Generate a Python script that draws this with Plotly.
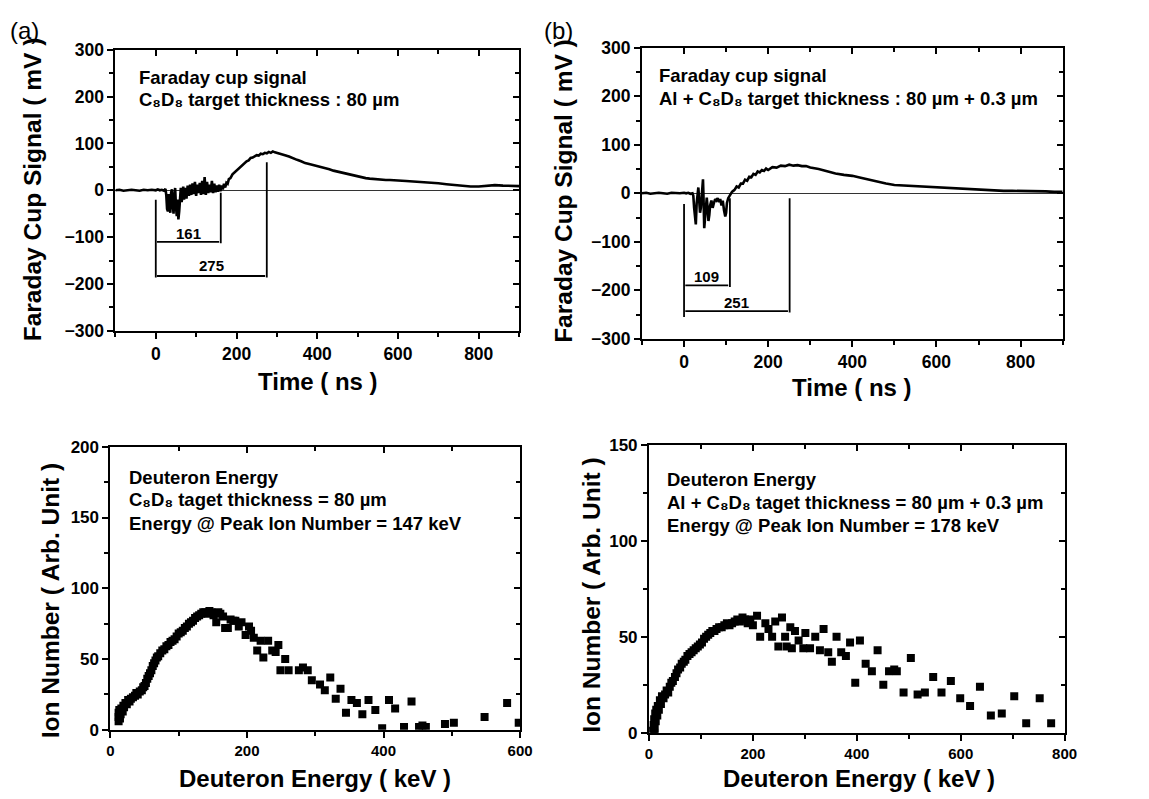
import plotly.graph_objects as go

# ---------------- data ----------------
time_a = [-100, -90, -80, -70, -60, -50, -40, -30, -20, -10, 0, 5, 10, 15, 20, 24, 26, 28, 30, 32,
          34, 36, 38, 40, 42, 44, 46, 48, 50, 52, 54, 56, 58, 60, 62, 64, 66, 68, 70, 73,
          76, 79, 82, 85, 88, 91, 94, 97, 100, 103, 106, 109, 112, 115, 118, 121, 124, 127, 130, 133,
          136, 139, 142, 145, 148, 151, 154, 157, 160, 163, 166, 169, 172, 175, 178, 181, 185, 190, 195, 200,
          205, 210, 215, 220, 225, 230, 235, 240, 245, 250, 255, 260, 265, 270, 275, 280, 285, 290, 295, 300,
          305, 310, 320, 330, 340, 350, 360, 370, 380, 390, 400, 410, 420, 430, 440, 450, 460, 470, 480, 490,
          500, 510, 520, 530, 540, 550, 560, 570, 580, 590, 600, 620, 640, 660, 680, 700, 720, 740, 760, 780,
          800, 820, 840, 860, 880, 900]
signal_a = [0, 1, -1, 0, 1, 0, -1, 1, 0, 1, 0, 2, 0, 1, -1, 3, -10, -40, -45, -8,
            -35, -48, -5, 2, -30, -50, -15, 5, -35, -55, -20, -62, -45, -5, 5, -25, -15, 8, -20, 5,
            -18, 10, -12, 12, -10, 15, -8, 18, -12, 12, -6, 16, -10, 20, -8, 28, -10, 18, -6, 12,
            -4, 20, -6, 14, -4, 10, -3, 12, -2, 10, 2, 14, 6, 16, 14, 24, 26, 34, 38, 42,
            45, 50, 55, 58, 62, 64, 69, 70, 73, 75, 74, 78, 77, 80, 79, 82, 80, 83, 81, 80,
            79, 77, 75, 72, 68, 65, 62, 58, 56, 54, 52, 50, 47, 45, 42, 40, 37, 35, 33, 31,
            29, 27, 26, 25, 24, 23, 23, 22, 22, 21, 21, 20, 19, 18, 16, 15, 13, 11, 10, 8,
            8, 10, 11, 10, 10, 9]

time_b = [-100, -90, -80, -70, -60, -50, -40, -30, -20, -10, 0, 5, 10, 15, 20, 22, 24, 26, 28, 30,
          32, 34, 36, 38, 40, 42, 44, 45, 46, 48, 50, 52, 54, 56, 58, 60, 62, 65, 68, 71,
          74, 77, 80, 83, 86, 89, 92, 95, 98, 100, 102, 105, 108, 111, 114, 117, 120, 125, 130, 135,
          140, 145, 150, 155, 160, 165, 170, 175, 180, 185, 190, 195, 200, 210, 220, 230, 240, 250, 260, 270,
          280, 290, 300, 320, 340, 360, 380, 400, 420, 440, 460, 480, 500, 520, 540, 560, 580, 600, 620, 640,
          660, 680, 700, 720, 740, 760, 780, 800, 820, 840, 860, 880, 900]
signal_b = [0, 1, -1, 0, 1, 0, -1, 1, 0, 0, 1, 0, 1, -1, 0, -5, -30, -60, -64, -20,
            5, 12, -15, -40, -30, -5, 20, 29, 0, -72, -50, -20, -9, -30, -57, -45, -25, -15, -30, -20,
            -12, -15, -10, -18, -12, -25, -15, -35, -48, -40, -20, -10, -5, 0, 3, 5, 7, 14, 12, 20,
            20, 28, 26, 34, 33, 40, 38, 45, 43, 48, 46, 51, 48, 54, 53, 57, 56, 59, 57, 58,
            56, 56, 53, 50, 45, 41, 38, 36, 32, 28, 23, 20, 17, 16, 15, 14, 13, 12, 11, 11,
            10, 9, 8, 7, 6, 5, 5, 5, 4, 4, 4, 3, 3]

# marked times (ns) for the Faraday cup annotations
marks_a = [161, 275]
marks_b = [109, 251]

energy_a = [12, 12, 12, 13, 14, 15, 16, 18, 19, 20, 22, 24, 26, 28, 30, 33, 36, 38, 40, 43,
            46, 48, 50, 52, 54, 56, 58, 60, 62, 64, 66, 68, 70, 73, 76, 79, 82, 85, 88, 91,
            94, 97, 100, 103, 106, 109, 112, 115, 118, 121, 124, 127, 130, 133, 136, 139, 142, 145, 148, 151,
            155, 158, 161, 165, 168, 172, 176, 180, 183, 188, 192, 198, 203, 206, 210, 215, 220, 224, 231, 237,
            242, 246, 249, 256, 261, 276, 282, 289, 295, 307, 314, 322, 330, 337, 345, 353, 361, 369, 378, 388,
            398, 408, 417, 430, 441, 452, 457, 462, 490, 503, 548, 581, 598]
ions_a = [6, 9, 12, 14, 8, 11, 15, 13, 17, 16, 19, 18, 21, 20, 22, 23, 24, 26, 25, 27,
          28, 30, 31, 33, 36, 38, 40, 42, 45, 47, 49, 51, 52, 54, 56, 57, 59, 60, 62, 63,
          64, 66, 68, 69, 70, 72, 73, 75, 76, 77, 79, 80, 81, 82, 83, 83, 82, 84, 83, 81,
          76, 83, 82, 80, 72, 72, 78, 77, 77, 73, 76, 67, 73, 70, 65, 56, 63, 51, 63, 56,
          55, 60, 42, 50, 42, 42, 44, 42, 35, 32, 28, 37, 22, 29, 12, 21, 19, 11, 21, 14,
          1, 21, 15, 2, 20, 2, 3, 2, 4, 5, 9, 19, 5]

energy_b = [8, 9, 10, 10, 11, 12, 13, 14, 16, 17, 19, 21, 23, 25, 28, 31, 34, 37, 40, 43,
            46, 50, 53, 56, 60, 63, 67, 70, 74, 78, 82, 86, 90, 94, 98, 102, 106, 110, 114, 118,
            122, 126, 130, 135, 140, 145, 150, 155, 160, 165, 170, 175, 180, 185, 190, 195, 200, 208, 214, 224,
            230, 237, 243, 249, 256, 262, 265, 272, 275, 281, 288, 297, 301, 310, 320, 329, 336, 345, 352, 361,
            370, 379, 387, 397, 406, 417, 429, 440, 451, 462, 472, 477, 490, 504, 517, 531, 547, 563, 581, 599,
            618, 637, 658, 679, 703, 726, 752, 774]
ions_b = [1, 4, 7, 0, 2, 10, 6, 12, 9, 14, 12, 17, 15, 19, 18, 20, 22, 21, 24, 26,
          27, 29, 31, 33, 34, 36, 37, 38, 40, 41, 42, 43, 44, 45, 46, 47, 49, 50, 51, 52,
          53, 53, 54, 55, 55, 56, 57, 56, 57, 58, 59, 58, 60, 59, 57, 59, 56, 61, 50, 57,
          54, 50, 58, 45, 60, 50, 45, 55, 44, 53, 48, 44, 52, 44, 50, 43, 54, 42, 37, 50,
          42, 40, 47, 26, 48, 36, 32, 43, 25, 32, 33, 32, 21, 39, 20, 21, 29, 21, 27, 18,
          14, 24, 9, 10, 19, 5, 18, 5]

assert len(time_a) == len(signal_a) and len(time_b) == len(signal_b)
assert len(energy_a) == len(ions_a) and len(energy_b) == len(ions_b)

# ---------------- figure ----------------
W, H = 1149, 799
FONT = "Liberation Sans, Arial, sans-serif"

# the captured picture comes out slightly scaled; pre-compensate pixel targets
SX, BX = 0.986, 1.5
SY, BY = 0.975, 9.2

def fx(p):
    """paper x fraction for a target pixel column"""
    return ((p - BX) / SX) / W

def fy(p):
    """paper y fraction for a target pixel row"""
    return 1 - ((p - BY) / SY) / H

fig = go.Figure()

line_style = dict(color="black", width=2.6)
fig.add_trace(go.Scatter(x=time_a, y=signal_a, mode="lines", line=line_style,
                         xaxis="x", yaxis="y", showlegend=False))
fig.add_trace(go.Scatter(x=time_b, y=signal_b, mode="lines", line=line_style,
                         xaxis="x2", yaxis="y2", showlegend=False))
mk = dict(symbol="square", size=8, color="black")
fig.add_trace(go.Scatter(x=energy_a, y=ions_a, mode="markers", marker=mk,
                         xaxis="x3", yaxis="y3", showlegend=False))
fig.add_trace(go.Scatter(x=energy_b, y=ions_b, mode="markers", marker=mk,
                         xaxis="x4", yaxis="y4", showlegend=False))
# empty traces for the mirrored (top/right) axes with inside ticks
for i in range(5, 9):
    fig.add_trace(go.Scatter(x=[], y=[], xaxis=f"x{i}", yaxis=f"y{i}",
                             showlegend=False, hoverinfo="skip"))

domains = {
    1: ([fx(113), fx(517)], [fy(330), fy(49)]),
    2: ([fx(640), fx(1061)], [fy(338), fy(47)]),
    3: ([fx(108), fx(518)], [fy(729), fy(446)]),
    4: ([fx(647), fx(1063)], [fy(732), fy(444)]),
}
xranges = {1: [-100, 900], 2: [-100, 900], 3: [0, 600], 4: [0, 800]}
yranges = {1: [-300, 300], 2: [-300, 300], 3: [0, 200], 4: [0, 150]}
xdt = {1: 200, 2: 200, 3: 200, 4: 200}
ydt = {1: 100, 2: 100, 3: 50, 4: 50}
tick_font_top = dict(family=FONT, size=17.5, color="black", weight="bold")
tick_font_bot = dict(family=FONT, size=15, color="black", weight="bold")
tick_font_boty = dict(family=FONT, size=17, color="black", weight="bold")

base = dict(showline=True, linewidth=2, linecolor="black", showgrid=False,
            ticks="outside", ticklen=6, tickwidth=2, tickcolor="black",
            fixedrange=True)

for i in range(1, 5):
    sfx = "" if i == 1 else str(i)
    xf = tick_font_top if i <= 2 else tick_font_bot
    yf = tick_font_top if i <= 2 else tick_font_boty
    fig.layout[f"xaxis{sfx}"] = dict(
        base, domain=domains[i][0], anchor=f"y{sfx}", range=xranges[i],
        dtick=xdt[i], tick0=0, zeroline=False, tickfont=xf,
        minor=dict(dtick=xdt[i] / 2, ticks="outside", ticklen=4, tickwidth=1.5, tickcolor="black"))
    fig.layout[f"yaxis{sfx}"] = dict(
        base, domain=domains[i][1], anchor=f"x{sfx}", range=yranges[i],
        dtick=ydt[i], tick0=0, tickfont=yf,
        zeroline=(i <= 2), zerolinewidth=1, zerolinecolor="#333333",
        minor=dict(dtick=ydt[i] / 2, ticks="outside", ticklen=4, tickwidth=1.5, tickcolor="black"))
    j = i + 4
    fig.layout[f"xaxis{j}"] = dict(
        base, overlaying=f"x{sfx}", side="top", anchor=f"y{j}", range=xranges[i],
        dtick=xdt[i], tick0=0, ticks="inside", showticklabels=False, zeroline=False,
        minor=dict(dtick=xdt[i] / 2, ticks="inside", ticklen=4, tickwidth=1.5, tickcolor="black"))
    fig.layout[f"yaxis{j}"] = dict(
        base, overlaying=f"y{sfx}", side="right", anchor=f"x{j}", range=yranges[i],
        dtick=ydt[i], tick0=0, ticks="inside", showticklabels=False, zeroline=False,
        minor=dict(dtick=ydt[i] / 2, ticks="inside", ticklen=4, tickwidth=1.5, tickcolor="black"))

# ---- interval markers on Faraday cup panels ----
shapes = []
annotations = []
lw = dict(color="black", width=1.8)

def add_marks(xr, yr, marks, v0, vtops, hys, bottom, label_ys):
    # vertical line at t = 0
    shapes.append(dict(type="line", xref=xr, yref=yr, x0=0, x1=0, y0=v0, y1=bottom, line=lw))
    for m, top, hy, ly in zip(marks, vtops, hys, label_ys):
        shapes.append(dict(type="line", xref=xr, yref=yr, x0=m, x1=m, y0=top, y1=hy - 3, line=lw))
        shapes.append(dict(type="line", xref=xr, yref=yr, x0=3, x1=m - 4, y0=hy, y1=hy, line=lw))
        annotations.append(dict(xref=xr, yref=yr, x=m / 2, y=ly, text=str(m), showarrow=False,
                                font=dict(family=FONT, size=15, color="black", weight="bold")))

add_marks("x", "y", marks_a, -20, [-5, 60], [-110, -183], -186, [-92, -160])
add_marks("x2", "y2", marks_b, -22, [-10, -10], [-190, -243], -255, [-171, -226])

# ---- in-plot text ----
tf = dict(family=FONT, size=18.5, color="black", weight="bold")

def txt(xr, yr, x, y, s):
    annotations.append(dict(xref=xr, yref=yr, x=x, y=y, text=s, showarrow=False,
                            xanchor="left", yanchor="middle", font=tf))

txt("x domain", "y domain", 0.054, 0.90, "Faraday cup signal")
txt("x domain", "y domain", 0.054, 0.822, "C₈D₈ target thickness : 80 µm")
txt("x2 domain", "y2 domain", 0.036, 0.905, "Faraday cup signal")
txt("x2 domain", "y2 domain", 0.036, 0.826, "Al + C₈D₈ target thickness : 80 µm + 0.3 µm")
txt("x3 domain", "y3 domain", 0.041, 0.89, "Deuteron Energy")
txt("x3 domain", "y3 domain", 0.041, 0.812, "C₈D₈ taget thickness = 80 µm")
txt("x3 domain", "y3 domain", 0.041, 0.73, "Energy @ Peak Ion Number = 147 keV")
txt("x4 domain", "y4 domain", 0.038, 0.878, "Deuteron Energy")
txt("x4 domain", "y4 domain", 0.038, 0.798, "Al + C₈D₈ taget thickness = 80 µm + 0.3 µm")
txt("x4 domain", "y4 domain", 0.038, 0.72, "Energy @ Peak Ion Number = 178 keV")

# ---- axis titles ----
def title(x, y, s, angle=0, size=24):
    annotations.append(dict(xref="paper", yref="paper", x=fx(x), y=fy(y), text=s,
                            showarrow=False, textangle=angle, xanchor="center",
                            yanchor="middle",
                            font=dict(family=FONT, size=size, color="black", weight="bold")))

title(30, 188, "Faraday Cup Signal ( mV )", -90, 24.5)
title(562, 190, "Faraday Cup Signal ( mV )", -90, 24.5)
title(316, 381, "Time ( ns )")
title(850, 387, "Time ( ns )")
title(48, 600, "Ion Number ( Arb. Unit )", -90, 24.5)
title(590, 595, "Ion Number ( Arb. Unit )", -90, 24.5)
title(313, 778, "Deuteron Energy ( keV )")
title(857, 778, "Deuteron Energy ( keV )")

# panel letters
for x, s in [(22, "(a)"), (556, "(b)")]:
    annotations.append(dict(xref="paper", yref="paper", x=fx(x), y=fy(30), text=s,
                            showarrow=False, xanchor="center", yanchor="middle",
                            font=dict(family=FONT, size=24, color="black")))

fig.update_layout(
    width=W, height=H,
    margin=dict(l=0, r=0, t=0, b=0),
    paper_bgcolor="white", plot_bgcolor="white",
    shapes=shapes, annotations=annotations,
    showlegend=False,
)

post = """
document.documentElement.style.margin='0px';
document.body.style.margin='0px';
document.documentElement.style.overflow='hidden';
document.body.style.overflow='hidden';
"""
fig.write_html("out.html", config={"displayModeBar": False}, post_script=post)
